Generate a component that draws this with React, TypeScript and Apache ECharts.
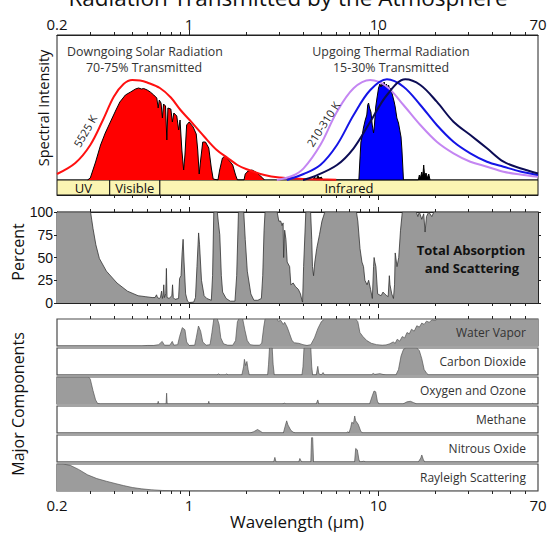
import React, { useEffect, useRef } from 'react';
import * as echarts from 'echarts';

// ---- axis ticks / labels (wavelength, micrometres) ----
const TICK_LABELS = [0.2, 1, 10, 70];
const MINOR_TICKS = [0.3, 0.4, 0.5, 0.6, 0.7, 0.8, 0.9, 2, 3, 4, 5, 6, 7, 8, 9, 20, 30, 40, 50, 60];
const MAJOR_TICKS = [1, 10];

// ---- spectral regions ----
const BANDS = ['UV', 'Visible', 'Infrared'];
const BAND_EDGES = [0.2, 0.38, 0.7, 70];

// ---- top panel: spectral intensity (arbitrary units, peak ~100) ----
const solarBbWl = [0.2, 0.25, 0.3, 0.35, 0.4, 0.45, 0.5, 0.55, 0.6, 0.7, 0.8, 0.9, 1.0, 1.2, 1.4, 1.6, 1.8, 2.0, 2.5, 3, 4, 5, 6];
const solarBbI = [6, 17, 35, 60, 83.5, 96, 100, 99.5, 97.5, 92, 82.5, 70, 60.5, 43.5, 30, 22, 15, 11, 5, 2.5, 1, 0.5, 0.3];

const solarTrWl = [0.29, 0.3, 0.32, 0.34, 0.36, 0.383, 0.41, 0.43, 0.46, 0.49, 0.52, 0.54, 0.56, 0.575, 0.6, 0.623, 0.65, 0.674, 0.686, 0.695, 0.71, 0.722, 0.732, 0.75, 0.762, 0.772, 0.8, 0.815, 0.83, 0.86, 0.88, 0.895, 0.915, 0.935, 0.95, 0.97, 1.0, 1.05, 1.09, 1.11, 1.13, 1.15, 1.18, 1.22, 1.27, 1.31, 1.34, 1.42, 1.45, 1.5, 1.55, 1.62, 1.7, 1.76, 1.8, 1.95, 1.98, 2.05, 2.15, 2.25, 2.35, 2.45, 2.5];
const solarTrI = [0, 2, 18, 35, 47, 58, 70, 78, 85, 88, 91, 92, 91, 91.5, 90, 88, 85, 82, 72, 80, 77, 62, 76, 74, 40, 72, 71, 58, 67, 64, 50, 60, 30, 10, 25, 55, 58, 53, 46, 30, 6, 20, 38, 38, 32, 12, 1, 0, 10, 22, 24, 20, 15, 5, 0, 0, 6, 9, 10, 8, 5, 2, 0];

const thermalTrWl = [7.9, 8.0, 8.1, 8.2, 8.35, 8.54, 8.7, 8.8, 8.89, 9.0, 9.15, 9.3, 9.45, 9.55, 9.7, 9.85, 10.04, 10.2, 10.35, 10.47, 10.6, 10.75, 10.89, 11.05, 11.2, 11.34, 11.5, 11.65, 11.82, 12.0, 12.15, 12.3, 12.55, 12.8, 13.0, 13.2, 13.35, 13.5, 13.6];
const thermalTrI = [0, 20, 38, 43, 52, 60, 65, 75, 77, 72, 68, 55, 47, 55, 73, 82, 92, 96, 93, 97, 94, 98, 93, 96, 92, 95, 90, 92, 87, 82, 78, 73, 62, 57, 50, 43, 30, 12, 0];

const residualWl = [4.5, 4.6, 4.7, 4.8, 4.9, 5.0, 5.1, 16.3, 16.5, 16.7, 17.0, 17.2, 17.4, 17.6, 17.9, 18.2, 18.5, 18.8];
const residualI = [0, 3, 1, 4, 2, 3, 0, 0, 5, 2, 8, 3, 15, 4, 7, 2, 6, 0];

const bb310Wl = [2.91, 3.5, 4.03, 4.94, 6.05, 7.41, 9.08, 11.12, 13.6, 16.7, 20.4, 25, 30.7, 37.6, 46, 56.4, 70];
const bb310I = [0, 4, 11.7, 35, 68.3, 91.7, 100, 93.3, 75, 55, 38.3, 26.7, 18.3, 13.3, 8.3, 5.5, 3.2];
const bb260Wl = [3.29, 4.03, 4.94, 6.05, 7.41, 9.08, 11.12, 13.6, 16.7, 20.4, 25, 30.7, 37.6, 46, 56.4, 70];
const bb260I = [0, 6, 15, 35, 65, 90, 100.7, 93.3, 75, 55, 38.3, 26.7, 18.3, 13.3, 8.5, 5];
const bb210Wl = [4.0, 4.55, 6.05, 7.41, 9.08, 11.12, 13.9, 16.7, 20.4, 25, 30.7, 37.6, 46, 56.4, 70];
const bb210I = [0, 3.3, 15, 31.7, 58.3, 85, 100.7, 95, 78.3, 58.3, 45, 31.7, 18.3, 11.7, 6.5];

// ---- total absorption and scattering (%) ----
const absWl = [0.2, 0.301, 0.31, 0.321, 0.335, 0.365, 0.415, 0.472, 0.537, 0.585, 0.637, 0.66, 0.672, 0.68, 0.694, 0.705, 0.715, 0.722, 0.728, 0.734, 0.74, 0.752, 0.758, 0.764, 0.783, 0.81, 0.817, 0.824, 0.842, 0.879, 0.89, 0.906, 0.918, 0.929, 0.94, 0.958, 0.98, 1.0, 1.057, 1.08, 1.1, 1.122, 1.135, 1.162, 1.2, 1.239, 1.31, 1.33, 1.35, 1.409, 1.425, 1.452, 1.48, 1.503, 1.569, 1.65, 1.747, 1.784, 1.823, 1.944, 1.98, 2.03, 2.12, 2.2, 2.31, 2.41, 2.45, 2.49, 2.52, 2.92, 2.98, 3.05, 3.1, 3.14, 3.16, 3.2, 3.25, 3.3, 3.4, 3.45, 3.55, 3.65, 3.78, 3.88, 3.95, 3.98, 4.03, 4.14, 4.39, 4.45, 4.49, 4.55, 4.62, 4.73, 4.89, 5.04, 5.22, 7.67, 7.8, 8.01, 8.2, 8.36, 8.5, 8.73, 8.9, 9.11, 9.31, 9.45, 9.51, 9.6, 9.72, 9.93, 10.36, 10.6, 10.82, 11.1, 11.29, 11.45, 11.54, 11.79, 12.04, 12.2, 12.3, 12.57, 12.84, 13.12, 13.41, 15.9, 16.2, 16.5, 17.0, 17.4, 17.7, 18.0, 18.5, 19.2, 19.7, 70];
const absPct = [100, 100, 82, 64, 49, 35, 22, 13, 8, 7, 6, 6, 9, 6, 5, 6, 13, 5, 8, 20, 6, 10, 38, 6, 5, 8, 20, 6, 4, 5, 27, 30, 55, 70, 45, 10, 2, 0.5, 1, 6, 40, 77, 64, 25, 8, 5, 3, 30, 100, 100, 90, 75, 30, 12, 5, 2, 2, 30, 100, 100, 70, 35, 10, 3, 3, 5, 30, 80, 100, 100, 90, 90, 85, 88, 50, 80, 70, 45, 40, 20, 22, 18, 15, 10, 3, 1, 40, 100, 100, 70, 40, 30, 45, 60, 75, 90, 100, 100, 90, 60, 45, 40, 25, 20, 25, 15, 5, 40, 50, 45, 40, 10, 8, 12, 10, 8, 7, 30, 20, 10, 5, 20, 55, 40, 50, 80, 100, 100, 95, 100, 92, 98, 78, 95, 100, 95, 100, 100];

// ---- major components (fraction absorbed / scattered) ----
const COMPONENTS = ['Water Vapor', 'Carbon Dioxide', 'Oxygen and Ozone', 'Methane', 'Nitrous Oxide', 'Rayleigh Scattering'];

const h2oWl = [0.2, 0.56, 0.6, 0.65, 0.69, 0.72, 0.74, 0.79, 0.814, 0.83, 0.87, 0.89, 0.92, 0.95, 0.97, 1.0, 1.07, 1.09, 1.12, 1.15, 1.18, 1.23, 1.29, 1.32, 1.35, 1.41, 1.44, 1.47, 1.52, 1.6, 1.7, 1.76, 1.8, 1.83, 1.92, 1.97, 2.03, 2.1, 2.2, 2.35, 2.42, 2.48, 2.52, 2.92, 2.96, 3.05, 3.15, 3.2, 3.3, 3.4, 3.5, 3.6, 3.8, 4.0, 4.2, 4.4, 4.6, 4.8, 5.0, 5.2, 7.6, 7.8, 8.0, 8.3, 8.7, 9.2, 9.8, 10.5, 11.0, 11.5, 12.0, 12.3, 12.6, 13.0, 13.4, 13.8, 14.2, 14.6, 15.0, 15.5, 16.0, 16.5, 17.0, 17.5, 18.0, 18.6, 19.3, 20.0, 20.6, 70];
const h2oFrac = [0, 0, 0.02, 0.02, 0.05, 0.17, 0.03, 0.03, 0.17, 0.03, 0.05, 0.35, 0.68, 0.6, 0.15, 0.02, 0.03, 0.3, 0.74, 0.55, 0.15, 0.03, 0.05, 0.5, 1, 1, 0.8, 0.3, 0.08, 0.03, 0.03, 0.2, 0.9, 1, 1, 0.6, 0.2, 0.05, 0.03, 0.03, 0.1, 0.7, 1, 1, 0.92, 0.95, 0.8, 0.88, 0.7, 0.45, 0.2, 0.12, 0.1, 0.05, 0.02, 0.05, 0.3, 0.65, 0.9, 1, 1, 0.9, 0.5, 0.35, 0.2, 0.1, 0.05, 0.03, 0.04, 0.08, 0.15, 0.1, 0.25, 0.18, 0.35, 0.3, 0.5, 0.45, 0.62, 0.55, 0.75, 0.7, 0.85, 0.8, 0.92, 0.88, 0.97, 0.95, 1, 1];

const co2Wl = [0.2, 1.4, 1.43, 1.46, 1.55, 1.58, 1.61, 1.9, 1.94, 1.96, 1.99, 2.02, 2.05, 2.08, 2.6, 2.63, 2.66, 2.75, 2.78, 2.82, 3.95, 4.0, 4.05, 4.4, 4.45, 4.5, 4.7, 4.79, 4.85, 5.0, 5.11, 5.2, 9.2, 9.4, 9.6, 10.2, 10.6, 11, 12.4, 12.8, 13.2, 13.6, 14, 16, 16.5, 17, 17.5, 18.1, 18.5, 70];
const co2Frac = [0, 0, 0.04, 0, 0, 0.04, 0, 0, 0.3, 0.58, 0.35, 0.5, 0.2, 0, 0, 0.4, 1, 1, 0.4, 0, 0, 0.3, 1, 1, 0.3, 0, 0, 0.32, 0.05, 0, 0.09, 0, 0, 0.06, 0.02, 0.05, 0.02, 0, 0, 0.2, 0.7, 0.95, 1, 1, 0.9, 0.6, 0.2, 0.05, 0, 0];

const o3Wl = [0.2, 0.294, 0.3, 0.31, 0.32, 0.328, 0.34, 0.68, 0.686, 0.692, 0.755, 0.76, 0.765, 1.26, 1.27, 1.28, 3.1, 3.2, 3.25, 4.7, 4.79, 4.85, 9.0, 9.3, 9.5, 9.7, 9.9, 10.1, 13.5, 14.2, 14.8, 15.4, 16, 65, 65.6, 66.5, 70];
const o3Frac = [1, 1, 0.92, 0.5, 0.15, 0.02, 0, 0, 0.1, 0, 0, 0.4, 0, 0, 0.1, 0, 0, 0.03, 0, 0, 0.15, 0, 0, 0.3, 0.48, 0.45, 0.1, 0, 0, 0.08, 0.1, 0.05, 0, 0, 0.03, 0, 0];

const ch4Wl = [0.2, 2.1, 2.2, 2.3, 2.4, 2.45, 3.15, 3.22, 3.28, 3.33, 3.45, 3.55, 3.65, 6.8, 6.9, 7.0, 7.15, 7.25, 7.4, 7.51, 7.6, 7.84, 8.1, 8.3, 70];
const ch4Frac = [0, 0, 0.05, 0.13, 0.05, 0, 0, 0.25, 0.45, 0.3, 0.1, 0.03, 0, 0, 0.05, 0, 0.2, 0.4, 0.35, 0.63, 0.45, 0.32, 0.05, 0, 0];

const n2oWl = [0.2, 2.8, 2.84, 2.88, 3.8, 3.85, 3.9, 3.95, 4.4, 4.44, 4.5, 4.55, 7.5, 7.6, 7.75, 7.9, 8.0, 8.4, 8.6, 16.3, 16.8, 17.0, 17.3, 17.6, 70];
const n2oFrac = [0, 0, 0.17, 0, 0, 0.13, 0.05, 0, 0, 0.9, 0.9, 0, 0, 0.5, 0.45, 0.1, 0, 0.03, 0, 0, 0.15, 0.26, 0.1, 0, 0];

const rayWl = [0.2, 0.215, 0.235, 0.26, 0.29, 0.325, 0.365, 0.41, 0.45, 0.5, 0.56, 0.63, 0.72, 0.85, 1.0, 1.3, 70];
const rayFrac = [1, 1, 0.95, 0.8, 0.6, 0.46, 0.36, 0.27, 0.2, 0.13, 0.08, 0.045, 0.02, 0.008, 0.003, 0, 0];

const COMPONENT_DATA = [
  [h2oWl, h2oFrac],
  [co2Wl, co2Frac],
  [o3Wl, o3Frac],
  [ch4Wl, ch4Frac],
  [n2oWl, n2oFrac],
  [rayWl, rayFrac],
];

const L = (v: number) => Math.log10(v);
const pts = (xs: number[], ys: number[]) => xs.map((x, i) => [L(x), ys[i]]);
const X_MIN = L(0.2);
const X_MAX = L(70);
const fmtWl = (v: number) => String(Math.round(Math.pow(10, v) * 10) / 10);

const SANS = 'Open Sans';
const AXIS_COLOR = '#222';

export default function App() {
  const ref = useRef<HTMLDivElement>(null);

  useEffect(() => {
    if (!ref.current) return;
    const chart = echarts.init(ref.current, undefined, { renderer: 'svg' });

    const LEFT = 57;
    const RIGHT = 16;
    const grids: any[] = [];
    const xAxes: any[] = [];
    const yAxes: any[] = [];
    const series: any[] = [];

    const baseX = (gridIndex: number, position: string, opts: any = {}) => ({
      type: 'value',
      gridIndex,
      position,
      min: X_MIN,
      max: X_MAX,
      splitLine: { show: false },
      axisLine: { show: true, onZero: false, lineStyle: { color: AXIS_COLOR, width: 1 } },
      axisTick: {
        show: true,
        inside: false,
        length: 3,
        customValues: MINOR_TICKS.map(L),
        lineStyle: { color: AXIS_COLOR, width: 1 },
      },
      axisLabel: { show: false },
      ...opts,
    });
    const hiddenY = (gridIndex: number, max: number) => ({
      type: 'value', gridIndex, min: 0, max, show: false, splitLine: { show: false },
      axisLine: { show: false, onZero: false },
    });

    // grid 0 : spectrum
    grids.push({ left: LEFT, right: RIGHT, top: 35, height: 145, show: true, borderColor: AXIS_COLOR, borderWidth: 1 });
    xAxes.push(baseX(0, 'top', {
      axisLabel: {
        show: true,
        customValues: TICK_LABELS.map(L),
        formatter: fmtWl,
        fontSize: 15,
        fontFamily: SANS,
        color: '#111',
        margin: 4,
      },
    }));
    yAxes.push(hiddenY(0, 145));

    // grid 1 : spectral band strip
    grids.push({ left: LEFT, right: RIGHT, top: 180, height: 15 });
    xAxes.push(baseX(1, 'bottom'));
    yAxes.push(hiddenY(1, 1));

    // grid 2 : percent
    grids.push({ left: LEFT, right: RIGHT, top: 212, height: 91, show: true, borderColor: AXIS_COLOR, borderWidth: 1 });
    xAxes.push(baseX(2, 'top'));
    xAxes.push(baseX(2, 'bottom'));
    const pctAxis = (position: string, labels: boolean) => ({
      type: 'value', gridIndex: 2, position, min: 0, max: 100, interval: 25,
      splitLine: { show: false },
      axisLine: { show: true, onZero: false, lineStyle: { color: AXIS_COLOR } },
      axisTick: { show: true, inside: false, length: 3, lineStyle: { color: AXIS_COLOR } },
      axisLabel: { show: labels, fontSize: 14, fontFamily: 'Liberation Sans', color: '#111', margin: 4 },
    });
    yAxes.push(pctAxis('left', true));
    yAxes.push(pctAxis('right', false));

    // grids 3..8 : component strips
    COMPONENTS.forEach((_, i) => {
      const gi = 3 + i;
      grids.push({ left: LEFT, right: RIGHT, top: 319 + 29 * i, height: 27, show: true, borderColor: '#4a4a4a', borderWidth: 1.2 });
      if (i === 0) {
        xAxes.push(baseX(gi, 'top', { axisLine: { show: false, onZero: false } }));
      } else if (i === COMPONENTS.length - 1) {
        xAxes.push(baseX(gi, 'bottom', {
          axisLine: { show: false, onZero: false },
          axisLabel: {
            show: true,
            customValues: TICK_LABELS.map(L),
            formatter: fmtWl,
            fontSize: 15,
            fontFamily: SANS,
            color: '#111',
            margin: 6,
          },
        }));
      } else {
        xAxes.push({ type: 'value', gridIndex: gi, min: X_MIN, max: X_MAX, show: false, axisLine: { onZero: false } });
      }
      yAxes.push(hiddenY(gi, 1));
    });

    // overlay grids for the longer major ticks (1 and 10)
    const overlays = [
      { top: 35, height: 160 },
      { top: 212, height: 91 },
      { top: 319, height: 172 },
    ];
    overlays.forEach((o, k) => {
      const gi = 9 + k;
      grids.push({ left: LEFT, right: RIGHT, top: o.top, height: o.height });
      ['top', 'bottom'].forEach((pos) => {
        xAxes.push(baseX(gi, pos, {
          axisLine: { show: false, onZero: false },
          axisTick: { show: true, inside: false, length: 5, customValues: MAJOR_TICKS.map(L), lineStyle: { color: AXIS_COLOR, width: 1 } },
        }));
      });
      yAxes.push(hiddenY(gi, 1));
    });

    const lineBase = { type: 'line', symbol: 'none', silent: true, animation: false };

    // spectrum fills
    series.push({
      ...lineBase, name: 'Solar transmitted', xAxisIndex: 0, yAxisIndex: 0,
      data: pts(solarTrWl, solarTrI),
      lineStyle: { color: '#000', width: 1 }, areaStyle: { color: '#ff0000', opacity: 1 }, z: 2,
    });
    series.push({
      ...lineBase, name: 'Thermal transmitted', xAxisIndex: 0, yAxisIndex: 0,
      data: pts(thermalTrWl, thermalTrI),
      lineStyle: { color: '#000', width: 1 }, areaStyle: { color: '#0000ff', opacity: 1 }, z: 2,
    });
    series.push({
      ...lineBase, name: 'Residual', xAxisIndex: 0, yAxisIndex: 0,
      data: pts(residualWl, residualI),
      lineStyle: { color: '#000', width: 1 }, areaStyle: { color: '#000', opacity: 1 }, z: 2,
    });
    // blackbody curves
    const bb = (name: string, xs: number[], ys: number[], color: string) => ({
      ...lineBase, name, xAxisIndex: 0, yAxisIndex: 0, smooth: 0.35,
      data: pts(xs, ys), lineStyle: { color, width: 2 }, z: 3,
    });
    series.push(bb('5525 K', solarBbWl, solarBbI, '#ff1010'));
    series.push(bb('310 K', bb310Wl, bb310I, '#c486f2'));
    series.push(bb('260 K', bb260Wl, bb260I, '#1414e6'));
    series.push(bb('210 K', bb210Wl, bb210I, '#0c0c55'));

    // band strip
    series.push({
      ...lineBase, name: 'Bands', xAxisIndex: 1, yAxisIndex: 1,
      data: [[X_MIN, 0]], lineStyle: { opacity: 0 },
      markArea: {
        silent: true,
        itemStyle: { color: '#fbf5b3', borderColor: '#111', borderWidth: 1 },
        label: { show: true, position: 'inside', color: '#111', fontSize: 13, fontFamily: SANS },
        data: BANDS.map((b, i) => [
          { name: b, xAxis: L(BAND_EDGES[i]) },
          { xAxis: L(BAND_EDGES[i + 1]) },
        ]),
      },
    });

    // percent
    series.push({
      ...lineBase, name: 'Total', xAxisIndex: 2, yAxisIndex: 2,
      data: pts(absWl, absPct),
      lineStyle: { color: '#333', width: 0.8 }, areaStyle: { color: '#999999', opacity: 1 },
    });

    // components
    COMPONENT_DATA.forEach(([xs, ys], i) => {
      series.push({
        ...lineBase, name: COMPONENTS[i], xAxisIndex: 4 + i, yAxisIndex: 4 + i,
        data: pts(xs as number[], ys as number[]),
        lineStyle: { color: '#555', width: 0.7 }, areaStyle: { color: '#9c9c9c', opacity: 1 },
      });
    });

    const txt = (text: string, x: number, y: number, font: string, fill = '#333', align = 'center', rotation = 0) => ({
      type: 'text', x, y, rotation, z: 100,
      style: { text, font, fill, align, verticalAlign: 'middle' },
    });

    const graphic: any[] = [
      txt('Radiation Transmitted by the Atmosphere', 288, -3, `22.5px ${SANS}`, '#111'),
      txt('Downgoing Solar Radiation', 145, 51, `12.4px ${SANS}`),
      txt('70-75% Transmitted', 144, 67, `12.4px ${SANS}`),
      txt('Upgoing Thermal Radiation', 391, 51, `12.4px ${SANS}`),
      txt('15-30% Transmitted', 391, 67, `12.4px ${SANS}`),
      txt('5525 K', 85, 131, `11px ${SANS}`, '#222', 'center', (60 * Math.PI) / 180),
      txt('210-310 K', 323, 124, `11px ${SANS}`, '#222', 'center', (57 * Math.PI) / 180),
      txt('Spectral Intensity', 43, 108, `14.5px ${SANS}`, '#111', 'center', Math.PI / 2),
      txt('Percent', 18, 252, `16px ${SANS}`, '#111', 'center', Math.PI / 2),
      txt('Major Components', 18, 404, `16px ${SANS}`, '#111', 'center', Math.PI / 2),
      txt('Total Absorption', 471, 250, `bold 13px ${SANS}`, '#111'),
      txt('and Scattering', 472, 268, `bold 13px ${SANS}`, '#111'),
      txt('Wavelength (μm)', 297, 521, `17px ${SANS}`, '#111'),
      ...COMPONENTS.map((c, i) => txt(c, 526, 319 + 29 * i + 13.5, `12px ${SANS}`, '#333', 'right')),
    ];

    chart.setOption({
      animation: false,
      backgroundColor: '#ffffff',
      grid: grids,
      xAxis: xAxes,
      yAxis: yAxes,
      series,
      graphic,
    });

    return () => chart.dispose();
  }, []);

  return <div ref={ref} style={{ position: 'fixed', left: 0, top: 0, width: 554, height: 545 }} />;
}
